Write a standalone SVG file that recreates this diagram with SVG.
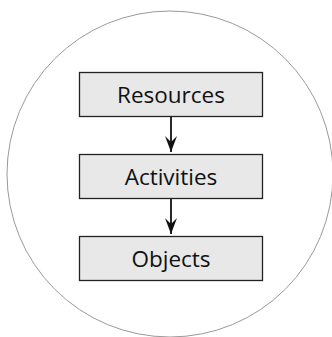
<svg xmlns="http://www.w3.org/2000/svg" width="332" height="337" viewBox="0 0 332 337">
<style>
.box{fill:#e8e8e8;stroke:#222;stroke-width:1.3}
.lbl{font-family:"Open Sans","DejaVu Sans",sans-serif;font-size:22.5px;fill:#111;text-anchor:middle}
.conn{stroke:#111;stroke-width:1.8;fill:none}
</style>
<defs>
<marker id="ah" viewBox="0 0 16 12" refX="16" refY="6" markerWidth="16" markerHeight="12" markerUnits="userSpaceOnUse" orient="auto">
<path d="M0,0 L16,6 L0,12 L6,6 Z" fill="#111"/>
</marker>
</defs>
<rect width="332" height="337" fill="#fff"/>
<circle cx="170" cy="174" r="163" fill="none" stroke="#9a9a9a" stroke-width="1"/>
<g id="connectors">
<line class="conn" x1="171" y1="117" x2="171" y2="152" marker-end="url(#ah)"/>
<line class="conn" x1="171" y1="199" x2="171" y2="234" marker-end="url(#ah)"/>
</g>
<g id="resources">
<rect class="box" x="79.5" y="72.5" width="183" height="44"/>
<text class="lbl" x="171" y="102.5">Resources</text>
</g>
<g id="activities">
<rect class="box" x="79.5" y="154.5" width="183" height="44"/>
<text class="lbl" x="171" y="184.5">Activities</text>
</g>
<g id="objects">
<rect class="box" x="79.5" y="236.5" width="183" height="44"/>
<text class="lbl" x="171" y="266.5">Objects</text>
</g>
</svg>
